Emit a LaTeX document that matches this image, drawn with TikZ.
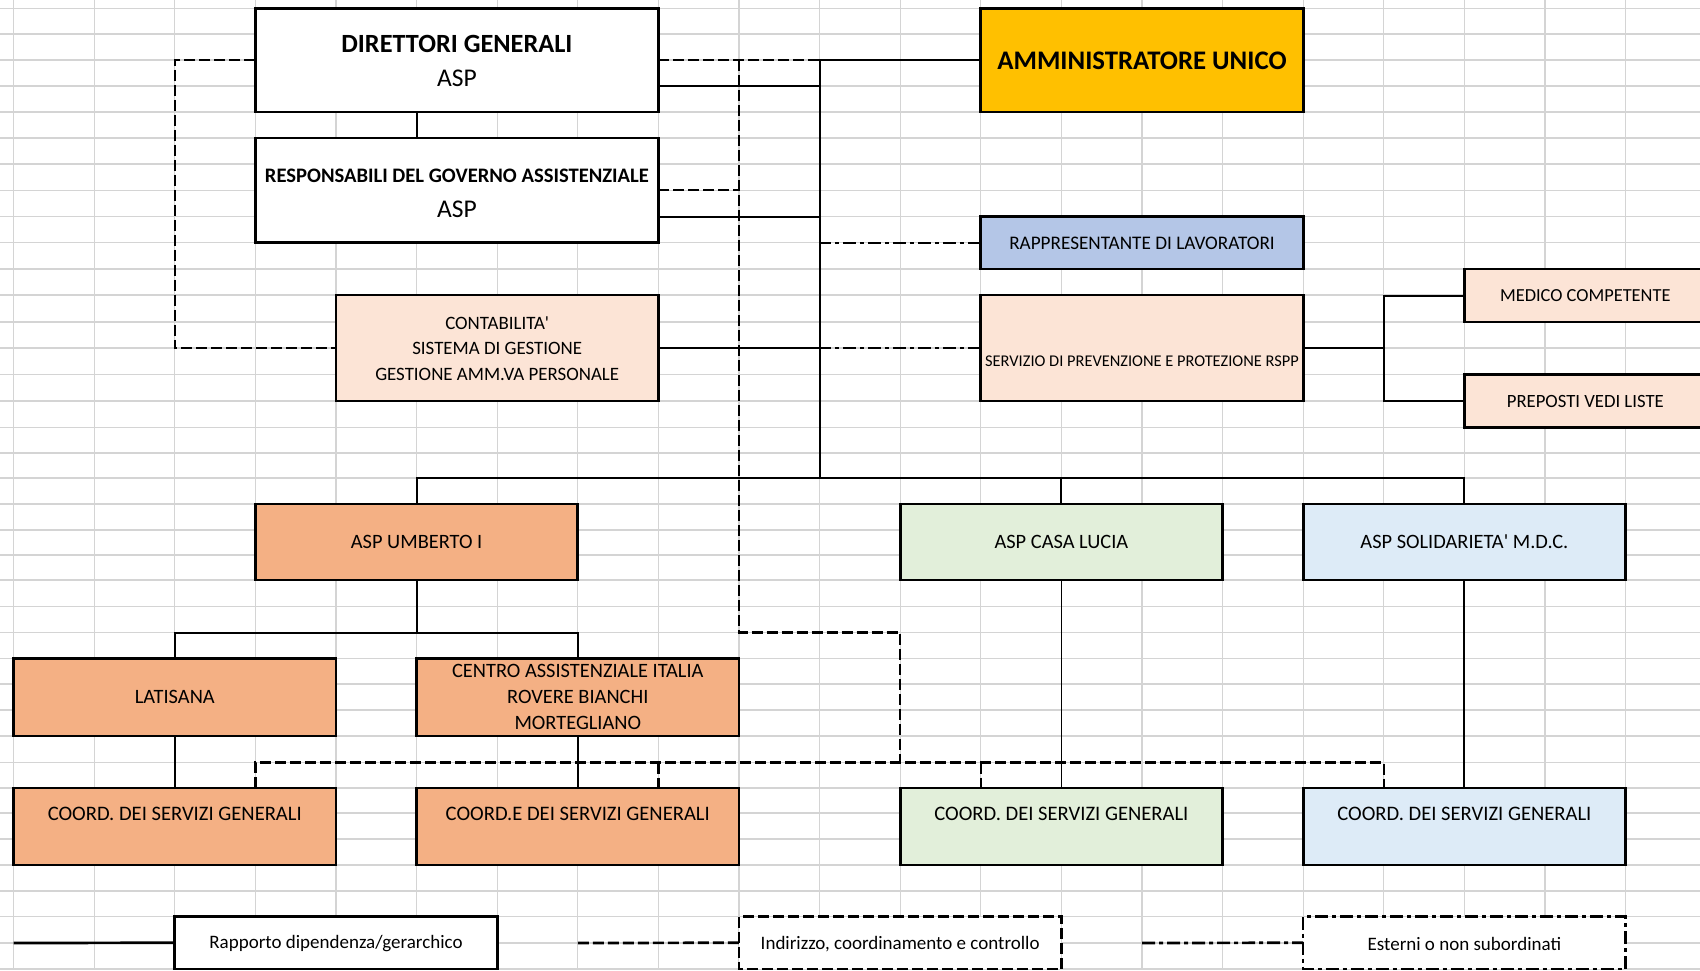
\documentclass[tikz,border=0pt]{standalone}
\usepackage{fontspec}
\setmainfont{Carlito}[Ligatures=TeXOff]
\definecolor{gridc}{HTML}{D4D4D4}
\definecolor{gold}{HTML}{FFC000}
\definecolor{rapp}{HTML}{B4C6E7}
\definecolor{peach}{HTML}{FCE4D6}
\definecolor{orng}{HTML}{F4B084}
\definecolor{grn}{HTML}{E2EFDA}
\definecolor{lblue}{HTML}{DDEBF7}
\newcommand\fs[1]{\fontsize{#1}{#1}\selectfont}
\begin{document}
\begin{tikzpicture}[x=1pt,y=-1pt,
  box/.style={draw=black, line width=2.7pt, rectangle, inner sep=0pt, outer sep=0pt},
  txt/.style={inner sep=0pt, outer sep=0pt, font=\fs{20.4}},
  conn/.style={line width=2pt},
  thin/.style={line width=1.5pt},
  dsh/.style={line width=2.2pt, dash pattern=on 11pt off 4pt},
  dshdot/.style={line width=2.2pt, dash pattern=on 13pt off 4pt on 4pt off 4pt},
  leg/.style={line width=2.7pt}]
\useasboundingbox (0,0) rectangle (1700,970);
\clip (0,0) rectangle (1700,970);
\fill[white] (0,0) rectangle (1700,970);
% spreadsheet grid
\foreach \gx in {13.6,94.2,174.8,255.4,336.0,416.6,497.2,577.8,658.4,739.0,819.6,900.2,980.8,1061.4,1142.0,1222.6,1303.2,1383.8,1464.4,1545.0,1625.6}
  \draw[gridc, line width=1.2pt] (\gx,0) -- (\gx,970);
\foreach \gy in {8.3,34,60,86,112,138,164,190.5,216.5,242.5,269,295,322,348,374.5,401,427.5,453,478,504,530,555,580,606.5,632.5,658.5,684,710,736,762.5,788,813,839,865,891,916.5,943,969}
  \draw[gridc, line width=1.2pt] (0,\gy) -- (1700,\gy);

% helper coordinates
\coordinate (vx) at (819.6,0);
\coordinate (dx) at (739.0,0);
\coordinate (sx) at (1383.8,0);
\coordinate (r3) at (0,86);
\coordinate (r8) at (0,216.5);
\coordinate (busy) at (0,478);
\coordinate (sub) at (0,632.5);
\coordinate (dsy) at (0,762.5);

% boxes (geometry)
\node[box, fill=white, minimum width=403pt, minimum height=103.7pt] (dg) at (456.9,60.15) {};
\node[box, fill=white, minimum width=403pt, minimum height=104.5pt] (rg) at (456.9,190.25) {};
\node[box, fill=peach, minimum width=322.4pt, minimum height=106pt] (cont) at (497.2,348) {};
\node[box, fill=gold, minimum width=322.4pt, minimum height=103.7pt] (amm) at (1142.0,60.15) {};
\node[box, fill=rapp, minimum width=322.4pt, minimum height=52.5pt] (rapp) at (1142.0,242.75) {};
\node[box, fill=peach, minimum width=322.4pt, minimum height=106pt] (serv) at (1142.0,348) {};
\node[box, fill=peach, minimum width=241.8pt, minimum height=53pt] (med) at (1585.3,295.5) {};
\node[box, fill=peach, minimum width=241.8pt, minimum height=53pt] (prep) at (1585.3,401) {};
\node[box, fill=orng, minimum width=322.4pt, minimum height=76pt] (umb) at (416.6,542) {};
\node[box, fill=grn, minimum width=322.4pt, minimum height=76pt] (cl) at (1061.4,542) {};
\node[box, fill=lblue, minimum width=322.4pt, minimum height=76pt] (sol) at (1464.4,542) {};
\node[box, fill=orng, minimum width=322.4pt, minimum height=77.5pt] (lat) at (174.8,697.25) {};
\node[box, fill=orng, minimum width=322.4pt, minimum height=77.5pt] (cen) at (577.8,697.25) {};
\node[box, fill=orng, minimum width=322.4pt, minimum height=77pt] (c1) at (174.8,826.5) {};
\node[box, fill=orng, minimum width=322.4pt, minimum height=77pt] (c2) at (577.8,826.5) {};
\node[box, fill=grn, minimum width=322.4pt, minimum height=77pt] (c3) at (1061.4,826.5) {};
\node[box, fill=lblue, minimum width=322.4pt, minimum height=77pt] (c4) at (1464.4,826.5) {};
% legend boxes
\node[box, fill=white, minimum width=322.4pt, minimum height=52.5pt] (L1) at (336.0,942.75) {};
\node[box, draw=none, fill=white, minimum width=322.4pt, minimum height=52.5pt] (L2) at (900.2,942.75) {};
\node[box, draw=none, fill=white, minimum width=322.4pt, minimum height=52.5pt] (L3) at (1464.4,942.75) {};
\draw[dsh, line width=2.5pt] (L2.north west) rectangle (L2.south east);
\draw[dshdot, line width=2.5pt] (L3.north west) rectangle (L3.south east);

% solid connectors
\draw[conn] (dg.south -| umb.north) -- (rg.north -| umb.north);
\draw[conn] (amm.west) -- (amm.west -| vx) -- (vx |- busy);
\draw[conn] (dg.east |- r3) -- (vx |- r3);
\draw[conn] (rg.east |- r8) -- (vx |- r8);
\draw[conn] (cont.east) -- (cont.east -| vx);
\draw[conn] (umb.north) -- (umb.north |- busy) -- (sol.north |- busy) -- (sol.north);
\draw[conn] (cl.north) -- (cl.north |- busy);
\draw[conn] (umb.south) -- (umb.south |- sub);
\draw[conn] (lat.north) -- (lat.north |- sub) -- (cen.north |- sub) -- (cen.north);
\draw[conn] (lat.south) -- (c1.north);
\draw[conn] (cen.south) -- (c2.north);
\draw[thin] (cl.south) -- (c3.north);
\draw[conn] (sol.south) -- (c4.north);
\draw[conn] (serv.east) -- (serv.east -| sx);
\draw[conn] (med.west) -- (med.west -| sx) -- (prep.west -| sx) -- (prep.west);

% dashed connectors
\draw[dsh] (dg.west) -- (dg.west -| lat.north) -- (cont.west -| lat.north) -- (cont.west);
\draw[dsh] (dg.east) -- (dg.east -| vx);
\draw[dsh] (rg.east) -- (rg.east -| dx);
\draw[dsh] (dg.east -| dx) -- (dx |- sub) -- (c3.west |- sub) -- (c3.west |- dsy);
\draw[dsh] (umb.west |- c1.north) -- (umb.west |- dsy) -- (sx |- dsy) -- (sx |- c4.north);
\draw[dsh] (dg.east |- dsy) -- (dg.east |- c2.north);
\draw[dsh] (amm.west |- dsy) -- (amm.west |- c3.north);

% dash-dot connectors
\draw[dshdot] (rapp.west) -- (rapp.west -| vx);
\draw[dshdot] (serv.west) -- (serv.west -| vx);

% legend lines
\coordinate (l1s) at (13.6,943);
\coordinate (l2s) at (577.8,943);
\coordinate (l3s) at (1142.0,943);
\draw[leg] (l1s) -- (L1.west);
\draw[leg, dash pattern=on 11pt off 4pt] (l2s) -- (L2.west);
\draw[leg, dash pattern=on 13pt off 4pt on 4pt off 4pt] (l3s) -- (L3.west);

% texts
\node[txt, font=\fs{26.3}\bfseries] (t1) at (456.9,43.5) {DIRETTORI GENERALI};
\node[txt, font=\fs{25.5}] (t2) at (456.9,78) {ASP};
\node[txt, font=\fs{20.6}\bfseries] (t3) at (456.9,176) {RESPONSABILI DEL GOVERNO ASSISTENZIALE};
\node[txt, font=\fs{25.5}] (t4) at (456.9,209.3) {ASP};
\node[txt, font=\fs{18.9}] (t5) at (497.2,323.3) {CONTABILITA'};
\node[txt, font=\fs{18.9}] (t6) at (497.2,348.3) {SISTEMA DI GESTIONE};
\node[txt, font=\fs{18.9}] (t7) at (497.2,374) {GESTIONE AMM.VA PERSONALE};
\node[txt, font=\fs{26.8}\bfseries] (t8) at (1142.0,60.5) {AMMINISTRATORE UNICO};
\node[txt, font=\fs{19.2}] (t9) at (1142.0,243) {RAPPRESENTANTE DI LAVORATORI};
\node[txt, font=\fs{16.4}] (t10) at (1142.0,361.7) {SERVIZIO DI PREVENZIONE E PROTEZIONE RSPP};
\node[txt, font=\fs{18.4}] (t11) at (1585.3,296) {MEDICO COMPETENTE};
\node[txt, font=\fs{18.7}] (t12) at (1585.3,401) {PREPOSTI VEDI LISTE};
\node[txt] (t13) at (416.6,542) {ASP UMBERTO I};
\node[txt] (t14) at (1061.4,542) {ASP CASA LUCIA};
\node[txt] (t15) at (1464.4,542) {ASP SOLIDARIETA' M.D.C.};
\node[txt] (t16) at (174.8,697) {LATISANA};
\node[txt] (t17) at (577.8,670.7) {CENTRO ASSISTENZIALE ITALIA};
\node[txt] (t18) at (577.8,697.3) {ROVERE BIANCHI};
\node[txt] (t19) at (577.8,722.7) {MORTEGLIANO};
\node[txt, font=\fs{20.6}] (t20) at (174.8,814) {COORD. DEI SERVIZI GENERALI};
\node[txt, font=\fs{20.6}] (t21) at (577.8,814) {COORD.E DEI SERVIZI GENERALI};
\node[txt, font=\fs{20.6}] (t22) at (1061.4,814) {COORD. DEI SERVIZI GENERALI};
\node[txt, font=\fs{20.6}] (t23) at (1464.4,814) {COORD. DEI SERVIZI GENERALI};
\node[txt, font=\fs{19}] (t24) at (336.0,944) {Rapporto dipendenza/gerarchico};
\node[txt, font=\fs{19}] (t25) at (900.2,944) {Indirizzo, coordinamento e controllo};
\node[txt, font=\fs{19}] (t26) at (1464.4,944) {Esterni o non subordinati};
\end{tikzpicture}
\end{document}
